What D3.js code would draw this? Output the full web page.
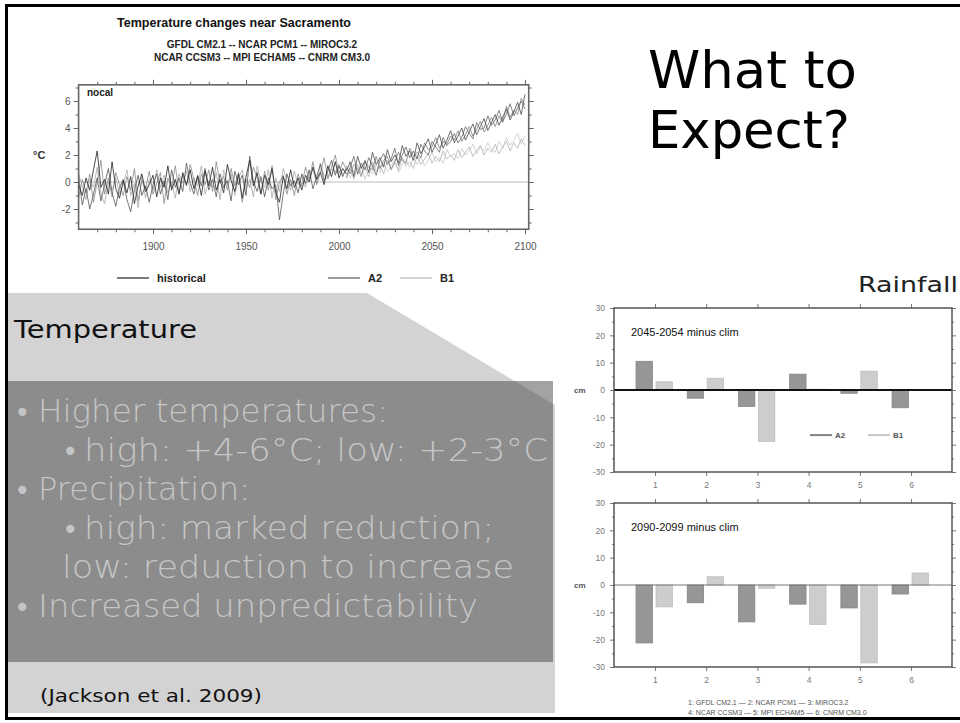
<!DOCTYPE html>
<html>
<head>
<meta charset="utf-8">
<script src="https://cdn.jsdelivr.net/npm/d3@7"></script>
<style>
body { margin: 0; background: #fff; }
svg { display: block; }
</style>
</head>
<body>
<svg id="slide" width="960" height="723"></svg>
<script>
// ---- temperature runs (deg C anomaly) ----
const histStart = 1860;
const scenStart = 2004;
const yearStep = 2;

const hist1 = [
  -0.2, -1.0, 0.3, -0.6, 0.9, 2.3, -0.4, 0.2, -0.9, 1.5,
  -0.5, -1.2, 0.1, -0.8, 0.4, -1.6, -0.3, 0.6, -0.7, -0.2,
  0.5, -1.1, 0.3, -0.4, 1.2, -0.6, 0.2, -0.9, 0.7, -0.2,
  0.9, -0.5, 0.4, -1.0, 0.8, -0.3, 1.1, -0.6, 0.2, -0.8,
  1.3, 0.1, -0.7, 0.6, -1.2, 0.4, 1.6, -0.3, 0.7, -0.9,
  0.5, -0.2, 1.0, -0.8, -1.5, 0.4, -0.5, 0.9, -0.4, 0.3,
  -0.6, 0.5, 0.0, 1.1, 0.2, 0.7, -0.2, 1.2, 0.4, 1.5,
  0.3, 1.0, 0.6
];
const hist2 = [
  0.4, -1.7, -0.5, -2.0, -0.9, 0.3, -1.4, -0.2, 1.0, -0.8,
  -1.8, -0.4, 0.2, -1.3, -2.2, -0.6, 0.5, -1.0, -0.3, -1.5,
  -0.2, 0.6, -0.9, 0.1, -1.3, 0.9, -0.4, 0.3, -0.7, 1.4,
  -0.1, -0.9, 0.5, -0.3, 1.0, -0.6, 0.2, -1.1, 0.6, -0.4,
  0.1, -1.4, 0.8, -0.2, 0.5, -1.0, 1.9, 0.0, -0.7, 0.4,
  -1.1, 0.3, -0.5, -0.2, -2.8, -0.9, 0.6, -0.3, 0.1, -0.8,
  0.6, -0.1, 0.9, -0.5, 0.4, 1.3, 0.1, 0.8, 1.6, 0.5,
  1.2, 0.4, 1.0
];
const hist3 = [
  -1.2, 0.2, -0.8, 0.6, -1.5, 0.0, 1.6, -0.9, 0.3, -1.1,
  0.7, -0.2, -1.0, 0.4, -0.6, 1.0, -1.4, 0.1, -0.5, 0.8,
  -0.9, -0.1, 0.7, -1.6, 0.3, -0.4, 1.2, -0.8, 0.5, -0.3,
  1.3, 0.2, -1.0, 0.6, -0.2, 0.9, -0.7, 1.5, -0.1, 0.4,
  -0.6, 1.0, -0.3, 0.7, -1.5, 0.2, -0.4, 1.1, 0.3, -0.9,
  0.8, -0.6, 1.2, -1.3, 0.0, 0.5, -0.9, 0.2, -1.0, 0.6,
  -0.3, 1.1, 0.2, 1.5, -0.2, 0.7, 1.8, 0.3, 1.1, 2.0,
  0.6, 1.5, 0.9
];
const hist4 = [
  0.6, -0.3, -1.3, 0.2, -0.4, 1.1, -0.9, -1.6, 0.0, -0.6,
  0.3, -0.9, -0.2, 0.9, -1.0, -0.1, -1.9, 0.4, -1.2, 0.2,
  -0.6, 0.9, -0.4, 0.5, -0.8, 0.0, -1.2, 0.6, -0.1, 0.8,
  -0.7, 0.3, -0.3, 1.2, -0.9, 0.1, -0.4, 0.7, -1.3, 0.9,
  -0.2, 0.6, -1.0, 0.3, 0.9, -0.5, 0.2, -1.1, 1.2, 0.0,
  -0.4, 0.9, -1.2, 0.3, -0.7, 1.0, 0.1, -0.6, 0.8, -0.2,
  0.4, -0.4, 0.6, 0.9, -0.1, 1.4, 0.5, 0.2, 1.0, 0.7,
  1.3, 0.5, 1.1
];
const a2Run1 = [
  0.8, 1.5, 0.4, 1.9, 1.0, 1.6, 0.7, 2.2, 1.3, 1.8,
  1.1, 2.4, 1.5, 2.0, 1.4, 2.7, 1.9, 2.3, 1.6, 2.9,
  2.1, 2.6, 3.2, 2.2, 2.8, 3.5, 2.5, 3.1, 3.8, 2.9,
  3.4, 4.0, 3.1, 3.7, 4.3, 3.5, 4.1, 4.7, 3.8, 4.4,
  5.0, 4.2, 4.8, 5.4, 4.6, 5.2, 5.9, 5.0, 6.5
];
const a2Run2 = [
  0.3, 1.1, 1.9, 0.6, 1.4, 0.9, 1.8, 1.2, 0.5, 1.6,
  2.1, 1.3, 1.7, 2.5, 1.2, 2.0, 2.6, 1.8, 2.3, 1.7,
  2.8, 2.3, 2.0, 3.0, 2.6, 2.2, 3.3, 2.7, 3.0, 3.6,
  2.9, 3.3, 4.1, 3.6, 3.2, 4.4, 3.9, 4.0, 4.9, 4.2,
  4.6, 5.3, 4.5, 5.0, 5.8, 4.9, 5.5, 6.0, 5.4
];
const a2Run3 = [
  1.2, 0.6, 1.3, 1.0, 0.4, 1.5, 1.1, 0.9, 1.9, 1.0,
  1.6, 1.9, 0.9, 1.5, 2.2, 1.6, 1.4, 2.5, 1.9, 2.2,
  1.8, 2.9, 2.4, 2.6, 3.3, 2.5, 3.0, 2.8, 3.4, 3.1,
  3.8, 3.0, 3.5, 4.1, 3.4, 3.9, 4.5, 3.7, 4.2, 4.8,
  4.1, 4.9, 4.4, 5.6, 4.8, 5.3, 5.0, 6.2, 5.7
];
const b1Run1 = [
  0.5, 1.0, 0.2, 1.3, 0.6, 1.1, 0.4, 1.5, 0.8, 1.2,
  0.6, 1.6, 1.0, 1.4, 0.9, 1.8, 1.2, 1.5, 1.0, 2.0,
  1.3, 1.7, 2.1, 1.4, 1.9, 1.5, 2.3, 1.7, 2.0, 1.6,
  2.4, 1.8, 2.2, 2.6, 1.9, 2.3, 2.7, 2.0, 2.5, 2.2,
  2.8, 2.1, 2.6, 3.0, 2.3, 2.9, 2.5, 3.2, 2.7
];
const b1Run2 = [
  1.0, 0.3, 0.9, 0.5, 1.2, 0.2, 0.9, 0.6, 1.3, 0.7,
  1.4, 0.8, 1.2, 1.7, 0.7, 1.3, 1.6, 1.1, 1.8, 1.3,
  1.9, 1.2, 1.6, 2.2, 1.5, 1.8, 1.4, 2.4, 1.9, 2.1,
  1.7, 2.5, 2.0, 2.3, 2.8, 2.1, 2.6, 2.3, 2.9, 2.4,
  2.2, 3.0, 2.5, 3.3, 2.7, 3.1, 3.6, 2.8, 3.4
];
const yearTicks = [1900, 1950, 2000, 2050, 2100];
const tempTicks = [-2, 0, 2, 4, 6];

// ---- rainfall change (cm) per model ----
const models = [1, 2, 3, 4, 5, 6];
const modelNames = ["GFDL CM2.1", "NCAR PCM1", "MIROC3.2", "NCAR CCSM3", "MPI ECHAM5", "CNRM CM3.0"];
const rainA2Mid = [10.5, -3.0, -6.0, 5.8, -1.2, -6.5];
const rainB1Mid = [3.0, 4.3, -18.8, 0.3, 6.9, 0.0];
const rainA2End = [-21.2, -6.5, -13.5, -7.0, -8.4, -3.3];
const rainB1End = [-8.0, 3.0, -1.2, -14.4, -28.5, 4.4];
const rainTicks = [-30, -20, -10, 0, 10, 20, 30];

const svg = d3.select("#slide");
const SLIDE_FONT = "'DejaVu Sans', sans-serif";
const CHART_FONT = "'Liberation Sans', Arial, sans-serif";

svg.append("rect").attr("width", 960).attr("height", 723).attr("fill", "#fff");

// dithered grey like the slide's text box
const defs = svg.append("defs");
const dither = defs.append("pattern").attr("id", "dither")
    .attr("width", 2).attr("height", 2).attr("patternUnits", "userSpaceOnUse");
dither.append("rect").attr("width", 2).attr("height", 2).attr("fill", "#939393");
dither.append("rect").attr("width", 1).attr("height", 1).attr("fill", "#858585");
dither.append("rect").attr("x", 1).attr("y", 1).attr("width", 1).attr("height", 1).attr("fill", "#858585");

// left light panel with cut corner, dark text box on top
svg.append("path").attr("d", "M8,293 L367,293 L555,405 L555,713 L8,713 Z").attr("fill", "#d3d3d3");
svg.append("rect").attr("x", 8).attr("y", 381).attr("width", 545).attr("height", 281).attr("fill", "url(#dither)");
svg.append("path").attr("d", "M515,381 L553,381 L553,404 Z").attr("fill", "#a3a3a3");

// slide frame
svg.append("rect").attr("x", 5).attr("y", 4).attr("width", 955).attr("height", 3).attr("fill", "#000");
svg.append("rect").attr("x", 5).attr("y", 4).attr("width", 3).attr("height", 716).attr("fill", "#000");
svg.append("rect").attr("x", 5).attr("y", 717).attr("width", 955).attr("height", 3).attr("fill", "#000");

// ================= temperature chart =================
const tx = d3.scaleLinear().domain([1900, 2100]).range([153, 525]);
const ty = d3.scaleLinear().domain([0, 6]).range([182, 101]);
const box = { x0: tx(1860), x1: tx(2102), y0: ty(7.2), y1: ty(-3.5) };

const tg = svg.append("g").attr("font-family", CHART_FONT);

tg.append("text").attr("x", 234).attr("y", 27).attr("text-anchor", "middle")
    .attr("font-size", 12.5).attr("font-weight", "bold").attr("fill", "#111")
    .text("Temperature changes near Sacramento");
tg.append("text").attr("x", 262).attr("y", 48).attr("text-anchor", "middle")
    .attr("font-size", 10).attr("font-weight", "bold").attr("fill", "#222")
    .text("GFDL CM2.1 -- NCAR PCM1 -- MIROC3.2");
tg.append("text").attr("x", 262).attr("y", 61).attr("text-anchor", "middle")
    .attr("font-size", 10).attr("font-weight", "bold").attr("fill", "#222")
    .text("NCAR CCSM3 -- MPI ECHAM5 -- CNRM CM3.0");

tg.append("defs").append("clipPath").attr("id", "tclip")
  .append("rect").attr("x", box.x0).attr("y", box.y0)
    .attr("width", box.x1 - box.x0).attr("height", box.y1 - box.y0);

const plot = tg.append("g").attr("clip-path", "url(#tclip)");
plot.append("line").attr("x1", box.x0).attr("x2", box.x1)
    .attr("y1", ty(0)).attr("y2", ty(0)).attr("stroke", "#bbb").attr("stroke-width", 1);

const runs = [
  { vals: b1Run2, start: scenStart, color: "#c9c9c9" },
  { vals: b1Run1, start: scenStart, color: "#b3b3b3" },
  { vals: hist4, start: histStart, color: "#aaa" },
  { vals: hist3, start: histStart, color: "#8a8a8a" },
  { vals: a2Run3, start: scenStart, color: "#808080" },
  { vals: a2Run2, start: scenStart, color: "#666" },
  { vals: a2Run1, start: scenStart, color: "#4a4a4a" },
  { vals: hist2, start: histStart, color: "#555" },
  { vals: hist1, start: histStart, color: "#222" }
];
const tline = d3.line().x(d => tx(d[0])).y(d => ty(d[1]));
plot.selectAll("path.run").data(runs).join("path")
    .attr("class", "run")
    .attr("fill", "none")
    .attr("stroke", d => d.color)
    .attr("stroke-width", 0.8)
    .attr("d", d => tline(d.vals.map((v, i) => [d.start + i * yearStep, v])));

// axes (ticks outward on all sides)
const minorYears = d3.range(1870, 2101, 10).filter(v => !yearTicks.includes(v));
const minorTemps = d3.range(-3, 8, 1).filter(v => !tempTicks.includes(v) && v <= 7);

tg.append("g").attr("transform", `translate(0,${box.y1})`)
    .call(d3.axisBottom(tx).tickValues(yearTicks).tickSize(5).tickPadding(9).tickFormat(d => String(d)));
tg.append("g").attr("transform", `translate(0,${box.y1})`)
    .call(d3.axisBottom(tx).tickValues(minorYears).tickSize(3).tickFormat(""));
tg.append("g").attr("transform", `translate(0,${box.y0})`)
    .call(d3.axisTop(tx).tickValues(yearTicks).tickSize(5).tickFormat(""));
tg.append("g").attr("transform", `translate(0,${box.y0})`)
    .call(d3.axisTop(tx).tickValues(minorYears).tickSize(3).tickFormat(""));
tg.append("g").attr("transform", `translate(${box.x0},0)`)
    .call(d3.axisLeft(ty).tickValues(tempTicks).tickSize(5).tickPadding(3).tickFormat(d => String(d)));
tg.append("g").attr("transform", `translate(${box.x0},0)`)
    .call(d3.axisLeft(ty).tickValues(minorTemps).tickSize(3).tickFormat(""));
tg.append("g").attr("transform", `translate(${box.x1},0)`)
    .call(d3.axisRight(ty).tickValues(tempTicks).tickSize(5).tickFormat(""));
tg.append("g").attr("transform", `translate(${box.x1},0)`)
    .call(d3.axisRight(ty).tickValues(minorTemps).tickSize(3).tickFormat(""));
tg.selectAll(".domain").remove();
tg.selectAll(".tick line").attr("stroke", "#666");
tg.selectAll(".tick text").attr("font-family", CHART_FONT).attr("font-size", 10).attr("fill", "#555");

tg.append("rect").attr("x", box.x0).attr("y", box.y0)
    .attr("width", box.x1 - box.x0).attr("height", box.y1 - box.y0)
    .attr("fill", "none").attr("stroke", "#666").attr("stroke-width", 1.6);

tg.append("text").attr("x", 87).attr("y", box.y0 + 11)
    .attr("font-size", 10).attr("font-weight", "bold").attr("fill", "#222").text("nocal");
tg.append("text").attr("x", 33).attr("y", 159)
    .attr("font-size", 11).attr("font-weight", "bold").attr("fill", "#333").text("°C");

// legend
const tLegend = [
  { name: "historical", x: 117, color: "#333" },
  { name: "A2", x: 328, color: "#666" },
  { name: "B1", x: 400, color: "#bbb" }
];
const lg = tg.selectAll("g.tleg").data(tLegend).join("g").attr("class", "tleg");
lg.append("line").attr("x1", d => d.x).attr("x2", d => d.x + 32)
    .attr("y1", 278).attr("y2", 278).attr("stroke", d => d.color).attr("stroke-width", 1.3);
lg.append("text").attr("x", d => d.x + 40).attr("y", 282)
    .attr("font-size", 11).attr("font-weight", "bold").attr("fill", "#222").text(d => d.name);

// ================= rainfall panels =================
const rx = d3.scaleLinear().domain([0.2, 6.8]).range([614, 952]);

function drawRainPanel(top, a2, b1, label, zeroWidth, zeroColor, legend) {
  const ry = d3.scaleLinear().domain([-30, 30]).range([top + 164, top]);
  const g = svg.append("g").attr("font-family", CHART_FONT);

  g.selectAll("rect.a2").data(a2).join("rect").attr("class", "a2")
      .attr("x", (d, i) => rx(models[i] - 0.37))
      .attr("width", rx(0.32) - rx(0))
      .attr("y", d => ry(Math.max(0, d)))
      .attr("height", d => Math.abs(ry(d) - ry(0)))
      .attr("fill", "#969696").attr("stroke", "#858585").attr("stroke-width", 0.8);
  g.selectAll("rect.b1").data(b1).join("rect").attr("class", "b1")
      .attr("x", (d, i) => rx(models[i] + 0.02))
      .attr("width", rx(0.32) - rx(0))
      .attr("y", d => ry(Math.max(0, d)))
      .attr("height", d => Math.abs(ry(d) - ry(0)))
      .attr("fill", "#cdcdcd").attr("stroke", "#bdbdbd").attr("stroke-width", 0.8);

  g.append("line").attr("x1", rx(0.2)).attr("x2", rx(6.8))
      .attr("y1", ry(0)).attr("y2", ry(0))
      .attr("stroke", zeroColor).attr("stroke-width", zeroWidth);

  const minor = d3.range(-25, 30, 10);
  const ax = [
    g.append("g").attr("transform", `translate(${rx(0.2)},0)`)
        .call(d3.axisLeft(ry).tickValues(rainTicks).tickSize(4).tickPadding(5).tickFormat(d => String(d))),
    g.append("g").attr("transform", `translate(${rx(0.2)},0)`)
        .call(d3.axisLeft(ry).tickValues(minor).tickSize(2).tickFormat("")),
    g.append("g").attr("transform", `translate(${rx(6.8)},0)`)
        .call(d3.axisRight(ry).tickValues(rainTicks).tickSize(4).tickFormat("")),
    g.append("g").attr("transform", `translate(${rx(6.8)},0)`)
        .call(d3.axisRight(ry).tickValues(minor).tickSize(2).tickFormat("")),
    g.append("g").attr("transform", `translate(0,${top})`)
        .call(d3.axisTop(rx).tickValues(models).tickSize(4).tickFormat("")),
    g.append("g").attr("transform", `translate(0,${top + 164})`)
        .call(d3.axisBottom(rx).tickValues(models).tickSize(4).tickPadding(6).tickFormat(d => String(d)))
  ];
  ax.forEach(a => a.select(".domain").remove());
  g.selectAll(".tick line").attr("stroke", "#777");
  g.selectAll(".tick text").attr("font-family", CHART_FONT).attr("font-size", 8.5).attr("fill", "#777");

  g.append("rect").attr("x", rx(0.2)).attr("y", top)
      .attr("width", rx(6.8) - rx(0.2)).attr("height", 164)
      .attr("fill", "none").attr("stroke", "#555").attr("stroke-width", 1.5);

  g.append("text").attr("x", 631).attr("y", top + 28)
      .attr("font-size", 11).attr("fill", "#111").text(label);
  g.append("text").attr("x", 574).attr("y", ry(0) + 3)
      .attr("font-size", 8).attr("font-weight", "bold").attr("fill", "#555").text("cm");

  if (legend) {
    const items = [
      { name: "A2", x: 810, color: "#808080" },
      { name: "B1", x: 868, color: "#c8c8c8" }
    ];
    const li = g.selectAll("g.rleg").data(items).join("g").attr("class", "rleg");
    li.append("line").attr("x1", d => d.x).attr("x2", d => d.x + 22)
        .attr("y1", ry(-16.5)).attr("y2", ry(-16.5))
        .attr("stroke", d => d.color).attr("stroke-width", 2);
    li.append("text").attr("x", d => d.x + 25).attr("y", ry(-16.5) + 3)
        .attr("font-size", 8).attr("font-weight", "bold").attr("fill", "#555").text(d => d.name);
  }
}

drawRainPanel(308, rainA2Mid, rainB1Mid, "2045-2054 minus clim", 2, "#111", true);
drawRainPanel(503, rainA2End, rainB1End, "2090-2099 minus clim", 1, "#777", false);

const foot = svg.append("g").attr("font-family", CHART_FONT).attr("font-size", 7).attr("fill", "#555");
foot.append("text").attr("x", 688).attr("y", 705)
    .text(models.slice(0, 3).map((m, i) => `${m}: ${modelNames[i]}`).join(" — "));
foot.append("text").attr("x", 688).attr("y", 715)
    .text(models.slice(3).map((m, i) => `${m}: ${modelNames[i + 3]}`).join(" — "));

// ================= slide text =================
function slideText(str, x, y, size, width, color, weight) {
  const t = svg.append("text").attr("x", x).attr("y", y)
      .attr("font-family", SLIDE_FONT).attr("font-size", size)
      .attr("font-weight", weight || "normal")
      .attr("fill", color).text(str);
  if (width) t.attr("textLength", width).attr("lengthAdjust", "spacingAndGlyphs");
  return t;
}

slideText("What to", 648, 88, 52, 209, "#000");
slideText("Expect?", 648, 148, 52, 202, "#000");
slideText("Rainfall", 858, 292, 22, 100, "#222");
slideText("Temperature", 14, 338, 24, 183, "#111");

const bulletLines = [
  { text: "Higher temperatures:", bullet: 14, x: 38, w: 350 },
  { text: "high: +4-6°C; low: +2-3°C", bullet: 62, x: 84, w: 464 },
  { text: "Precipitation:", bullet: 14, x: 38, w: 212 },
  { text: "high: marked reduction;", bullet: 62, x: 84, w: 410 },
  { text: "low: reduction to increase", bullet: null, x: 62, w: 452 },
  { text: "Increased unpredictability", bullet: 14, x: 38, w: 440 }
];
bulletLines.forEach((d, i) => {
  const y = 422 + i * 39;
  if (d.bullet !== null) slideText("•", d.bullet, y, 28, null, "#c4c4c4");
  slideText(d.text, d.x, y, 32, d.w, "#c6c6c6", 200);
});

slideText("(Jackson et al. 2009)", 40, 702, 18, 222, "#111");
</script>
</body>
</html>
